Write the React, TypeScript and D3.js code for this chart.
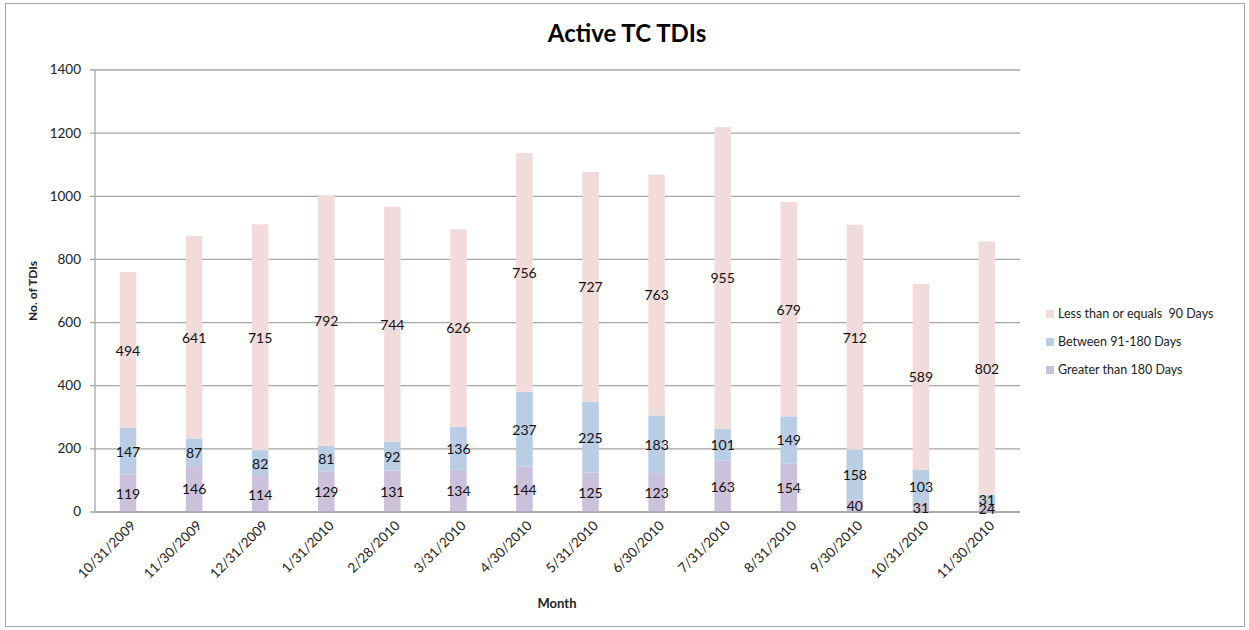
import * as d3 from 'd3';

const months = [
  '10/31/2009', '11/30/2009', '12/31/2009', '1/31/2010', '2/28/2010', '3/31/2010', '4/30/2010',
  '5/31/2010', '6/30/2010', '7/31/2010', '8/31/2010', '9/30/2010', '10/31/2010', '11/30/2010'
];
const greater180 = [119, 146, 114, 129, 131, 134, 144, 125, 123, 163, 154, 40, 31, 24];
const between91to180 = [147, 87, 82, 81, 92, 136, 237, 225, 183, 101, 149, 158, 103, 31];
const lessEq90 = [494, 641, 715, 792, 744, 626, 756, 727, 763, 955, 679, 712, 589, 802];
const yTicks = [0, 200, 400, 600, 800, 1000, 1200, 1400];

const seriesNames = ['Greater than 180 Days', 'Between 91-180 Days', 'Less than or equals  90 Days'];
const seriesColors = ['#ccc1da', '#b9cde5', '#f2dcdb'];

export default function App() {
  const width = 1249;
  const height = 630;
  const margin = { top: 70, right: 229, bottom: 118, left: 95 };
  const chartWidth = width - margin.left - margin.right;
  const chartHeight = height - margin.top - margin.bottom;
  const font = 'Lato, "Open Sans", sans-serif';

  const rows = months.map((m, i) => ({ month: m, g: greater180[i], b: between91to180[i], l: lessEq90[i] }));
  const stack = d3.stack<any>().keys(['g', 'b', 'l']);
  const series = stack(rows);

  const xScale = d3.scaleBand().domain(months).range([0, chartWidth]).paddingInner(0.75).paddingOuter(0.375);
  const yScale = d3.scaleLinear().domain([0, 1400]).range([chartHeight, 0]);

  // legend order as in the reference: top series first
  const legendOrder = [2, 1, 0];

  return (
    <svg width={width} height={height} style={{ position: 'absolute', left: 0, top: 0, background: '#fff' }}>
      <rect x={5.5} y={3.5} width={1239} height={623} fill="#fff" stroke="#a6a6a6" />
      <text x={627} y={42} textAnchor="middle" fontSize={24} fontWeight="bold" fontFamily={font} fill="#000">
        Active TC TDIs
      </text>
      <g transform={`translate(${margin.left},${margin.top})`}>
        {/* gridlines */}
        {yTicks.map(t => (
          <g key={t}>
            <line x1={-5} x2={chartWidth} y1={yScale(t)} y2={yScale(t)} stroke="#a6a6a6" strokeWidth={1.3} />
            <text x={-14} y={yScale(t)} dy={1} textAnchor="end" dominantBaseline="middle" fontSize={13.5} fontFamily={font} fill="#222">
              {t}
            </text>
          </g>
        ))}
        <line x1={0} x2={0} y1={0} y2={chartHeight} stroke="#a6a6a6" strokeWidth={1.3} />

        {/* bars */}
        {series.map((s, si) => (
          <g key={si}>
            {s.map((d, i) => (
              <rect
                key={i}
                x={xScale(months[i])!}
                y={yScale(d[1])}
                width={xScale.bandwidth()}
                height={yScale(d[0]) - yScale(d[1])}
                fill={seriesColors[si]}
              />
            ))}
          </g>
        ))}
        <line x1={0} x2={chartWidth} y1={chartHeight} y2={chartHeight} stroke="#a6a6a6" strokeWidth={1.3} />

        {/* data labels */}
        {series.map((s, si) => (
          <g key={'l' + si}>
            {s.map((d, i) => (
              <text
                key={i}
                x={xScale(months[i])! + xScale.bandwidth() / 2}
                y={(yScale(d[0]) + yScale(d[1])) / 2}
                dy={2}
                textAnchor="middle"
                dominantBaseline="middle"
                fontSize={14}
                fontFamily={font}
                fill="#111"
              >
                {d[1] - d[0]}
              </text>
            ))}
          </g>
        ))}

        {/* x tick labels */}
        {months.map(m => {
          const cx = xScale(m)! + xScale.bandwidth() / 2 + 6;
          const cy = chartHeight + 12;
          return (
            <text
              key={m}
              x={cx}
              y={cy}
              textAnchor="end"
              dominantBaseline="middle"
              fontSize={13.5}
              fontFamily={font}
              fill="#222"
              transform={`rotate(-45, ${cx}, ${cy})`}
            >
              {m}
            </text>
          );
        })}

        <text x={462} y={chartHeight + 96} textAnchor="middle" fontSize={13} fontWeight="bold" fontFamily={font} fill="#222">
          Month
        </text>
        <text
          x={-58}
          y={chartHeight / 2}
          textAnchor="middle"
          fontSize={12}
          fontWeight="bold"
          fontFamily={font}
          fill="#222"
          transform={`rotate(-90, -58, ${chartHeight / 2})`}
        >
          No. of TDIs
        </text>
      </g>

      {/* legend */}
      {legendOrder.map((si, k) => (
        <g key={si} transform={`translate(1046, ${314 + k * 28})`}>
          <rect x={0} y={-4} width={8} height={8} fill={seriesColors[si]} />
          <text x={12} y={1} dominantBaseline="middle" fontSize={12.5} fontFamily={font} fill="#222" style={{ whiteSpace: 'pre' }}>
            {seriesNames[si]}
          </text>
        </g>
      ))}
    </svg>
  );
}
